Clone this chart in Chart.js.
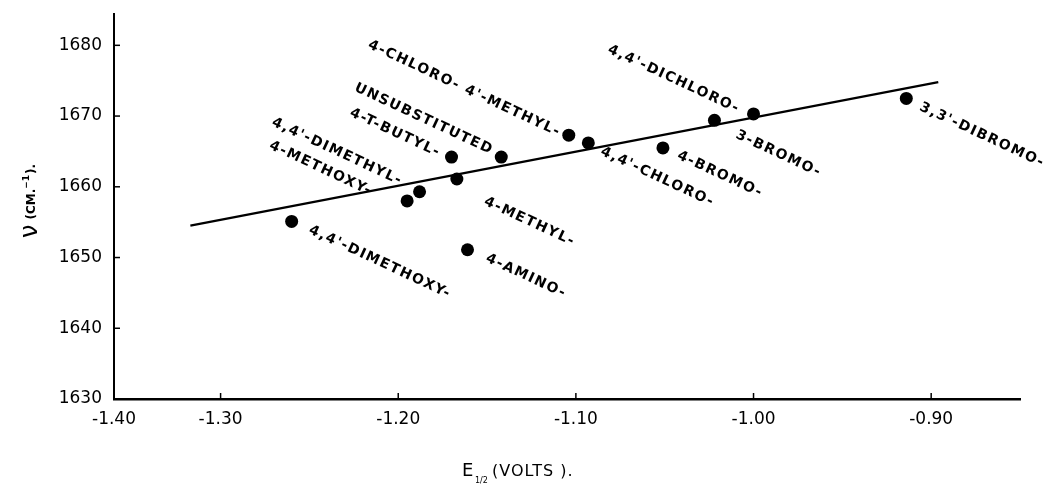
<!DOCTYPE html>
<html>
<head>
<meta charset="utf-8">
<script src="https://cdn.jsdelivr.net/npm/chart.js@4"></script>
<style>
  html, body { margin: 0; padding: 0; background: #fff; }
  #wrap { width: 1048px; height: 485px; position: relative; }
</style>
</head>
<body>
<div id="wrap"><canvas id="chart"></canvas></div>
<script>
// Substituent names (one per measured point)
var names = [
    '4,4\'-DIMETHOXY-', '4-METHOXY-', '4,4\'-DIMETHYL-', '4-METHYL-', '4-T-BUTYL-',
    '4-AMINO-', 'UNSUBSTITUTED', '4-CHLORO- 4\'-METHYL-', '4,4\'-CHLORO-',
    '4-BROMO-', '3-BROMO-', '4,4\'-DICHLORO-', '3,3\'-DIBROMO-'
];
// Half-wave potential E1/2 (volts)
var halfWave = [-1.260, -1.195, -1.188, -1.167, -1.170, -1.161, -1.142, -1.104, -1.093,
    -1.051, -1.022, -1.000, -0.914];
// Carbonyl frequency (cm-1)
var freq = [1655.1, 1658.0, 1659.3, 1661.1, 1664.2, 1651.1, 1664.2, 1667.3, 1666.2,
    1665.5, 1669.4, 1670.3, 1672.5];

// Fitted straight line, end points
var fitX = [-1.317, -0.896];
var fitY = [1654.5, 1674.8];

// Axis ticks
var xTicks = [-1.40, -1.30, -1.20, -1.10, -1.00, -0.90];
var yTicks = [1630, 1640, 1650, 1660, 1670, 1680];
// the original axis squeezes its first interval: -1.40 sits at the axis corner
var xAxisStart = -1.36;

// where each name is written, relative to its point (px), and text angle
var labelOffsets = [
    [18, 8], [-137, -56], [-147, -70], [28, 22], [-101, -45],
    [19, 8], [-146, -70], [-200, -91], [13, 8],
    [15, 7], [22, 14], [-145, -65], [14, 8]
];
var labelAngle = 25 * Math.PI / 180;

var points = halfWave.map((x, i) => ({ x: x, y: freq[i] }));
var fitLine = fitX.map((x, i) => ({ x: x, y: fitY[i] }));

// draws the inward ticks, the names and the axis titles
var annotate = {
    id: 'annotate',
    afterDatasetsDraw(chart) {
        var ctx = chart.ctx;
        var xs = chart.scales.x, ys = chart.scales.y;
        var area = chart.chartArea;

        ctx.save();
        ctx.strokeStyle = '#000';
        ctx.lineWidth = 1.5;
        // inward ticks
        yTicks.slice(1).forEach(v => {
            var py = ys.getPixelForValue(v);
            ctx.beginPath();
            ctx.moveTo(area.left, py);
            ctx.lineTo(area.left + 6, py);
            ctx.stroke();
        });
        xTicks.slice(1).forEach(v => {
            var px = xs.getPixelForValue(v);
            ctx.beginPath();
            ctx.moveTo(px, area.bottom);
            ctx.lineTo(px, area.bottom - 6);
            ctx.stroke();
        });

        // point names
        ctx.fillStyle = '#000';
        ctx.font = 'bold 14px "DejaVu Sans"';
        ctx.letterSpacing = '1.5px';
        ctx.textAlign = 'left';
        ctx.textBaseline = 'middle';
        names.forEach((name, i) => {
            var px = xs.getPixelForValue(halfWave[i]) + labelOffsets[i][0];
            var py = ys.getPixelForValue(freq[i]) + labelOffsets[i][1];
            ctx.save();
            ctx.translate(px, py);
            ctx.rotate(labelAngle);
            ctx.fillText(name, 0, 0);
            ctx.restore();
        });
        ctx.letterSpacing = '0px';

        // y title: nu (CM.-1).
        ctx.save();
        ctx.translate(31, 238);
        ctx.rotate(-Math.PI / 2);
        ctx.textBaseline = 'middle';
        ctx.font = '24px "DejaVu Sans"';
        ctx.fillText('ν', 0, 0);
        var w = ctx.measureText('ν').width + 5;
        ctx.font = 'bold 12px "DejaVu Sans"';
        ctx.fillText('(CM.', w, 1);
        w += ctx.measureText('(CM.').width;
        ctx.font = 'bold 9px "DejaVu Sans"';
        ctx.fillText('−1', w, -4);
        w += ctx.measureText('−1').width + 1;
        ctx.font = 'bold 12px "DejaVu Sans"';
        ctx.fillText(').', w, 1);
        ctx.restore();

        // x title: E1/2 (VOLTS).
        ctx.textBaseline = 'alphabetic';
        ctx.font = '18px "DejaVu Sans"';
        ctx.fillText('E', 462, 476);
        ctx.font = '8px "DejaVu Sans"';
        ctx.fillText('1/2', 475, 483);
        ctx.font = '16px "DejaVu Sans"';
        ctx.letterSpacing = '1px';
        ctx.fillText('(VOLTS ).', 492, 476);
        ctx.letterSpacing = '0px';
        ctx.restore();
    }
};

var ctx = document.getElementById('chart').getContext('2d');
var myChart = new Chart(ctx, {
    data: {
        datasets: [{
            type: 'scatter',
            data: points,
            pointRadius: 6.5,
            pointHoverRadius: 6.5,
            backgroundColor: '#000',
            borderColor: '#000',
            borderWidth: 0
        }, {
            type: 'line',
            data: fitLine,
            borderColor: '#000',
            borderWidth: 2.2,
            pointRadius: 0,
            fill: false
        }]
    },
    options: {
        responsive: true,
        maintainAspectRatio: false,
        animation: false,
        layout: { padding: { top: 14, right: 28, left: 0, bottom: 0 } },
        plugins: {
            legend: { display: false },
            tooltip: { enabled: false }
        },
        scales: {
            x: {
                type: 'linear',
                min: xAxisStart,
                max: -0.85,
                afterBuildTicks: scale => {
                    scale.ticks = xTicks.map((v, i) => ({ value: i === 0 ? xAxisStart : v }));
                },
                afterFit: scale => { scale.height = 86; },
                grid: { display: false },
                border: { display: true, color: '#000', width: 2.5 },
                ticks: {
                    color: '#000',
                    padding: 2,
                    font: { family: 'DejaVu Sans', size: 17 },
                    callback: (value, index) => xTicks[index].toFixed(2)
                }
            },
            y: {
                type: 'linear',
                min: 1630,
                max: 1684.4,
                afterBuildTicks: scale => {
                    scale.ticks = yTicks.map(v => ({ value: v }));
                },
                afterFit: scale => { scale.width = 114; },
                grid: { display: false },
                border: { display: true, color: '#000', width: 2 },
                ticks: {
                    color: '#000',
                    padding: 4,
                    font: { family: 'DejaVu Sans', size: 17 },
                    callback: value => String(value)
                }
            }
        }
    },
    plugins: [annotate]
});
</script>
</body>
</html>
